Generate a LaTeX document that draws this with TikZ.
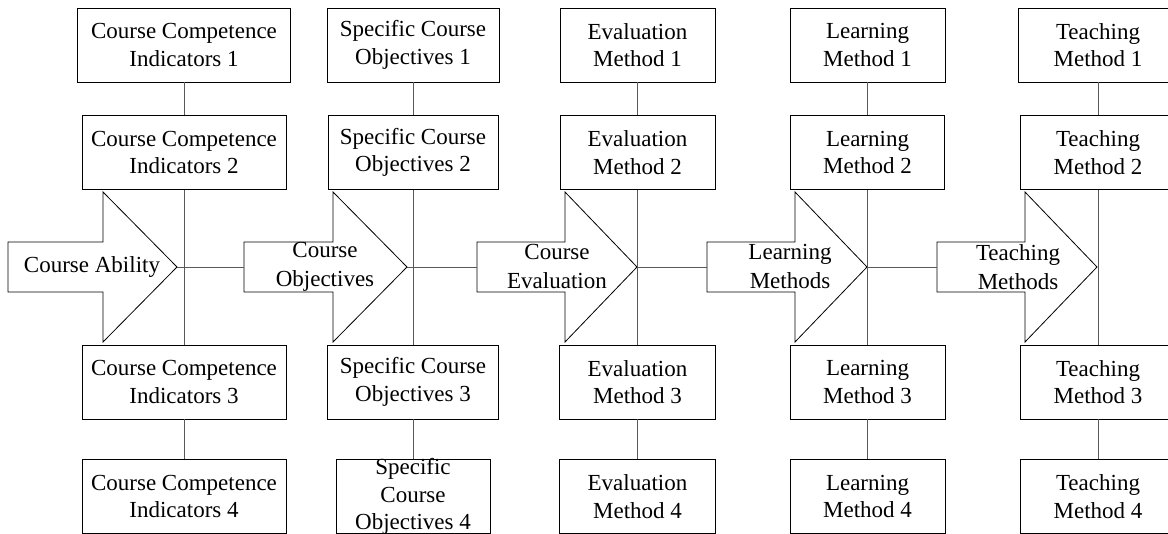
\documentclass[tikz,border=0pt]{standalone}
\usepackage{fontspec}
\setmainfont{Liberation Serif}
\begin{document}
\begin{tikzpicture}[x=1pt,y=-1pt,
  box/.style={draw=black, line width=0.9pt, minimum height=74pt, inner sep=0pt,
              align=center, font=\fontsize{23}{27.5}\selectfont},
  link/.style={draw=black!65, line width=0.9pt},
  flow/.style={draw=black, line width=0.8pt, line join=miter},
  flowtext/.style={align=center, inner sep=0pt, font=\fontsize{23}{29}\selectfont}]
\clip (0,0) rectangle (1168,534);

% block arrow: #1 name, #2 tail x, #3 head base x, #4 tip x
\newcommand\flowarrow[4]{%
  \draw[flow] (#2,242) -- (#3,242) -- (#3,192) -- (#4,267) -- (#3,342)
              -- (#3,292) -- (#2,292) -- cycle;
  \coordinate (#1-tail) at (#2,267);
  \coordinate (#1-tip) at (#4,267);}

% column 1: course competence indicators
\node[box, minimum width=213pt] (c1) at (184,45)    {Course Competence\\Indicators 1};
\node[box, minimum width=204pt] (c2) at (184,152.5) {Course Competence\\Indicators 2};
\node[box, minimum width=204pt] (c3) at (184,382)   {Course Competence\\Indicators 3};
\node[box, minimum width=204pt] (c4) at (184,496.5) {Course Competence\\Indicators 4};

% column 2: specific course objectives
\node[box, minimum width=172pt] (s1) at (413,45)    {Specific Course\\Objectives 1};
\node[box, minimum width=170pt] (s2) at (413,152.5) {Specific Course\\Objectives 2};
\node[box, minimum width=171pt] (s3) at (413,382)   {Specific Course\\Objectives 3};
\node[box, minimum width=154pt] (s4) at (413,496.5) {};
\node[flowtext, font=\fontsize{23}{27.5}\selectfont] (s4t) at (413,496.5)
  {Specific\\Course\\Objectives 4};

% column 3: evaluation methods
\node[box, minimum width=155pt] (e1) at (637.5,45)    {Evaluation\\Method 1};
\node[box, minimum width=155pt] (e2) at (637.5,152.5) {Evaluation\\Method 2};
\node[box, minimum width=156pt] (e3) at (637.5,382)   {Evaluation\\Method 3};
\node[box, minimum width=156pt] (e4) at (637.5,496.5) {Evaluation\\Method 4};

% column 4: learning methods
\node[box, minimum width=155pt] (l1) at (867.5,45)    {Learning\\Method 1};
\node[box, minimum width=154pt] (l2) at (867.5,152.5) {Learning\\Method 2};
\node[box, minimum width=155pt] (l3) at (867.5,382)   {Learning\\Method 3};
\node[box, minimum width=155pt] (l4) at (867.5,496.5) {Learning\\Method 4};

% column 5: teaching methods
\node[box, minimum width=160pt] (t1) at (1098,45)    {Teaching\\Method 1};
\node[box, minimum width=156pt] (t2) at (1098,152.5) {Teaching\\Method 2};
\node[box, minimum width=156pt] (t3) at (1098,382)   {Teaching\\Method 3};
\node[box, minimum width=156pt] (t4) at (1098,496.5) {Teaching\\Method 4};

% block arrows along the main line
\flowarrow{a1}{8}{103}{177}
\flowarrow{a2}{244}{333}{407}
\flowarrow{a3}{477}{565}{637}
\flowarrow{a4}{707}{795}{867}
\flowarrow{a5}{937}{1025}{1097}

\node[flowtext] (a1t) at (92,267)   {Course Ability};
\node[flowtext] (a2t) at (325,267)  {Course\\Objectives};
\node[flowtext] (a3t) at (557,267)  {Course\\Evaluation};
\node[flowtext] (a4t) at (790,267)  {Learning\\Methods};
\node[flowtext] (a5t) at (1018,267) {Teaching\\Methods};

% vertical links within each column
\foreach \k in {c,s,e,l,t}{
  \draw[link] (\k1) -- (\k2);
  \draw[link] (\k2) -- (\k3);
  \draw[link] (\k3) -- (\k4);
}

% horizontal links between arrows
\draw[link] (a1-tip) -- (a2-tail);
\draw[link] (a2-tip) -- (a3-tail);
\draw[link] (a3-tip) -- (a4-tail);
\draw[link] (a4-tip) -- (a5-tail);
\end{tikzpicture}
\end{document}
